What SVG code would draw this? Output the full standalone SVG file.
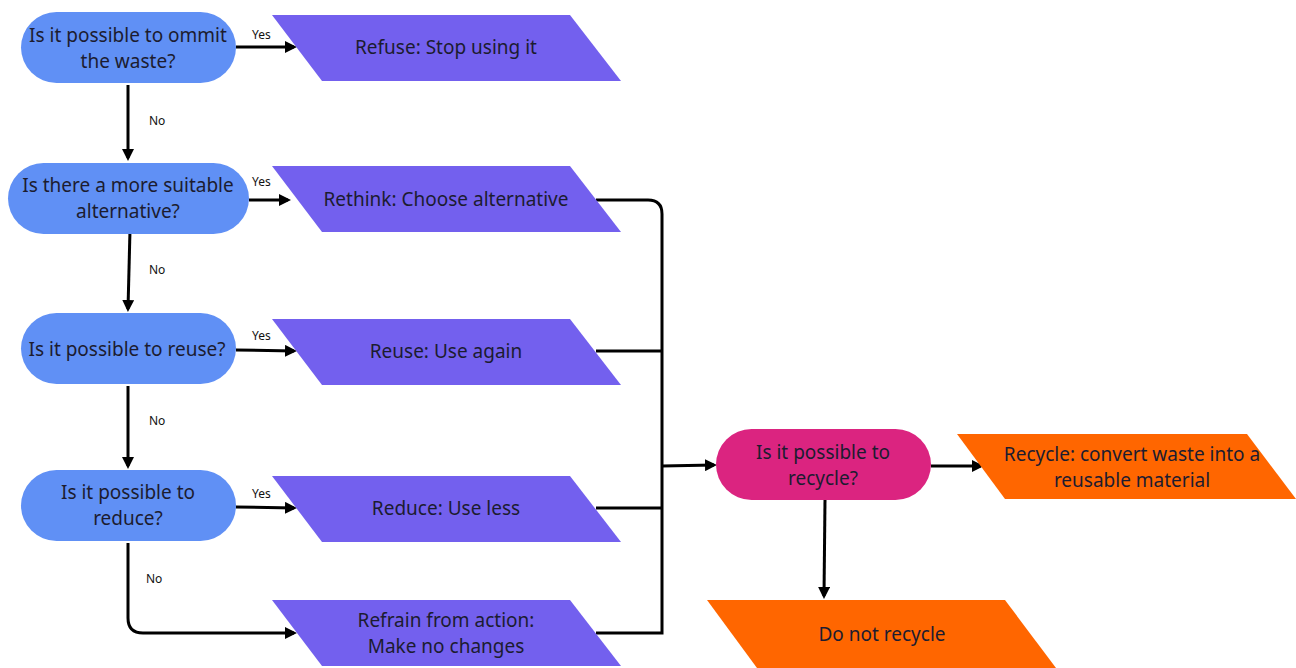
<svg xmlns="http://www.w3.org/2000/svg" width="1296" height="668" viewBox="0 0 1296 668">
<defs>
<marker id="ah" markerWidth="12" markerHeight="12" refX="9" refY="6" orient="auto" markerUnits="userSpaceOnUse">
<path d="M0,0 L12,6 L0,12 Z" fill="#000"/>
</marker>
<style>
.q{fill:#6090F5}
.p{fill:#7360EE}
.m{fill:#DB2480}
.o{fill:#FF6600}
.t{font-family:"Noto Sans","Open Sans",sans-serif;font-size:19px;fill:#1c1c30;text-anchor:middle}
.l{font-family:"Noto Sans","Open Sans",sans-serif;font-size:12px;fill:#111}
.c{fill:none;stroke:#000;stroke-width:3}
</style>
</defs>
<rect width="1296" height="668" fill="#fff"/>

<g id="connectors">
<path class="c" d="M236,47 H294" marker-end="url(#ah)"/>
<path class="c" d="M128,85 V158" marker-end="url(#ah)"/>
<path class="c" d="M249,200 H288" marker-end="url(#ah)"/>
<path class="c" d="M130,230 L128,309" marker-end="url(#ah)"/>
<path class="c" d="M236,350 L294,351" marker-end="url(#ah)"/>
<path class="c" d="M128,386 V466" marker-end="url(#ah)"/>
<path class="c" d="M236,507 L294,508" marker-end="url(#ah)"/>
<path class="c" d="M128,543 V618 Q128,633 143,633 H294" marker-end="url(#ah)"/>
<path class="c" d="M596,200 H648 Q662,200 662,214 V633 H596"/>
<path class="c" d="M596,351 H662"/>
<path class="c" d="M596,508 H662"/>
<path class="c" d="M662,466 L714,465" marker-end="url(#ah)"/>
<path class="c" d="M931,466 L981,466" marker-end="url(#ah)"/>
<path class="c" d="M825,500 L824,596" marker-end="url(#ah)"/>
<text class="l" x="252" y="39">Yes</text>
<text class="l" x="252" y="186">Yes</text>
<text class="l" x="252" y="340">Yes</text>
<text class="l" x="252" y="498">Yes</text>
<text class="l" x="149" y="125">No</text>
<text class="l" x="149" y="274">No</text>
<text class="l" x="149" y="425">No</text>
<text class="l" x="146" y="583">No</text>
</g>

<g id="q1"><rect class="q" x="21" y="12" width="215" height="71" rx="35.5"/>
<text class="t" x="128" y="42">Is it possible to ommit</text><text class="t" x="128" y="68">the waste?</text></g>
<g id="q2"><rect class="q" x="8" y="163" width="241" height="71" rx="35.5"/>
<text class="t" x="128" y="192">Is there a more suitable</text><text class="t" x="128" y="218">alternative?</text></g>
<g id="q3"><rect class="q" x="21" y="313" width="215" height="71" rx="35.5"/>
<text class="t" x="127" y="356">Is it possible to reuse?</text></g>
<g id="q4"><rect class="q" x="21" y="470" width="215" height="71" rx="35.5"/>
<text class="t" x="128" y="499">Is it possible to</text><text class="t" x="128" y="525">reduce?</text></g>

<g id="p1"><polygon class="p" points="272,15 570,15 621,81 322,81"/>
<text class="t" x="446" y="54">Refuse: Stop using it</text></g>
<g id="p2"><polygon class="p" points="272,166 570,166 621,232 322,232"/>
<text class="t" x="446" y="206">Rethink: Choose alternative</text></g>
<g id="p3"><polygon class="p" points="272,319 570,319 621,385 322,385"/>
<text class="t" x="446" y="358">Reuse: Use again</text></g>
<g id="p4"><polygon class="p" points="272,476 570,476 621,542 322,542"/>
<text class="t" x="446" y="515">Reduce: Use less</text></g>
<g id="p5"><polygon class="p" points="272,600 570,600 621,666 322,666"/>
<text class="t" x="446" y="627">Refrain from action:</text><text class="t" x="446" y="653">Make no changes</text></g>

<g id="recycle-q"><rect class="m" x="716" y="429" width="215" height="71" rx="35.5"/>
<text class="t" x="823" y="459">Is it possible to</text><text class="t" x="823" y="485">recycle?</text></g>
<g id="recycle"><polygon class="o" points="957,434 1247,434 1296,499 1005,499"/>
<text class="t" x="1132" y="461">Recycle: convert waste into a</text><text class="t" x="1132" y="487">reusable material</text></g>
<g id="no-recycle"><polygon class="o" points="707,600 1005,600 1056,668 757,668"/>
<text class="t" x="882" y="641">Do not recycle</text></g>
</svg>
